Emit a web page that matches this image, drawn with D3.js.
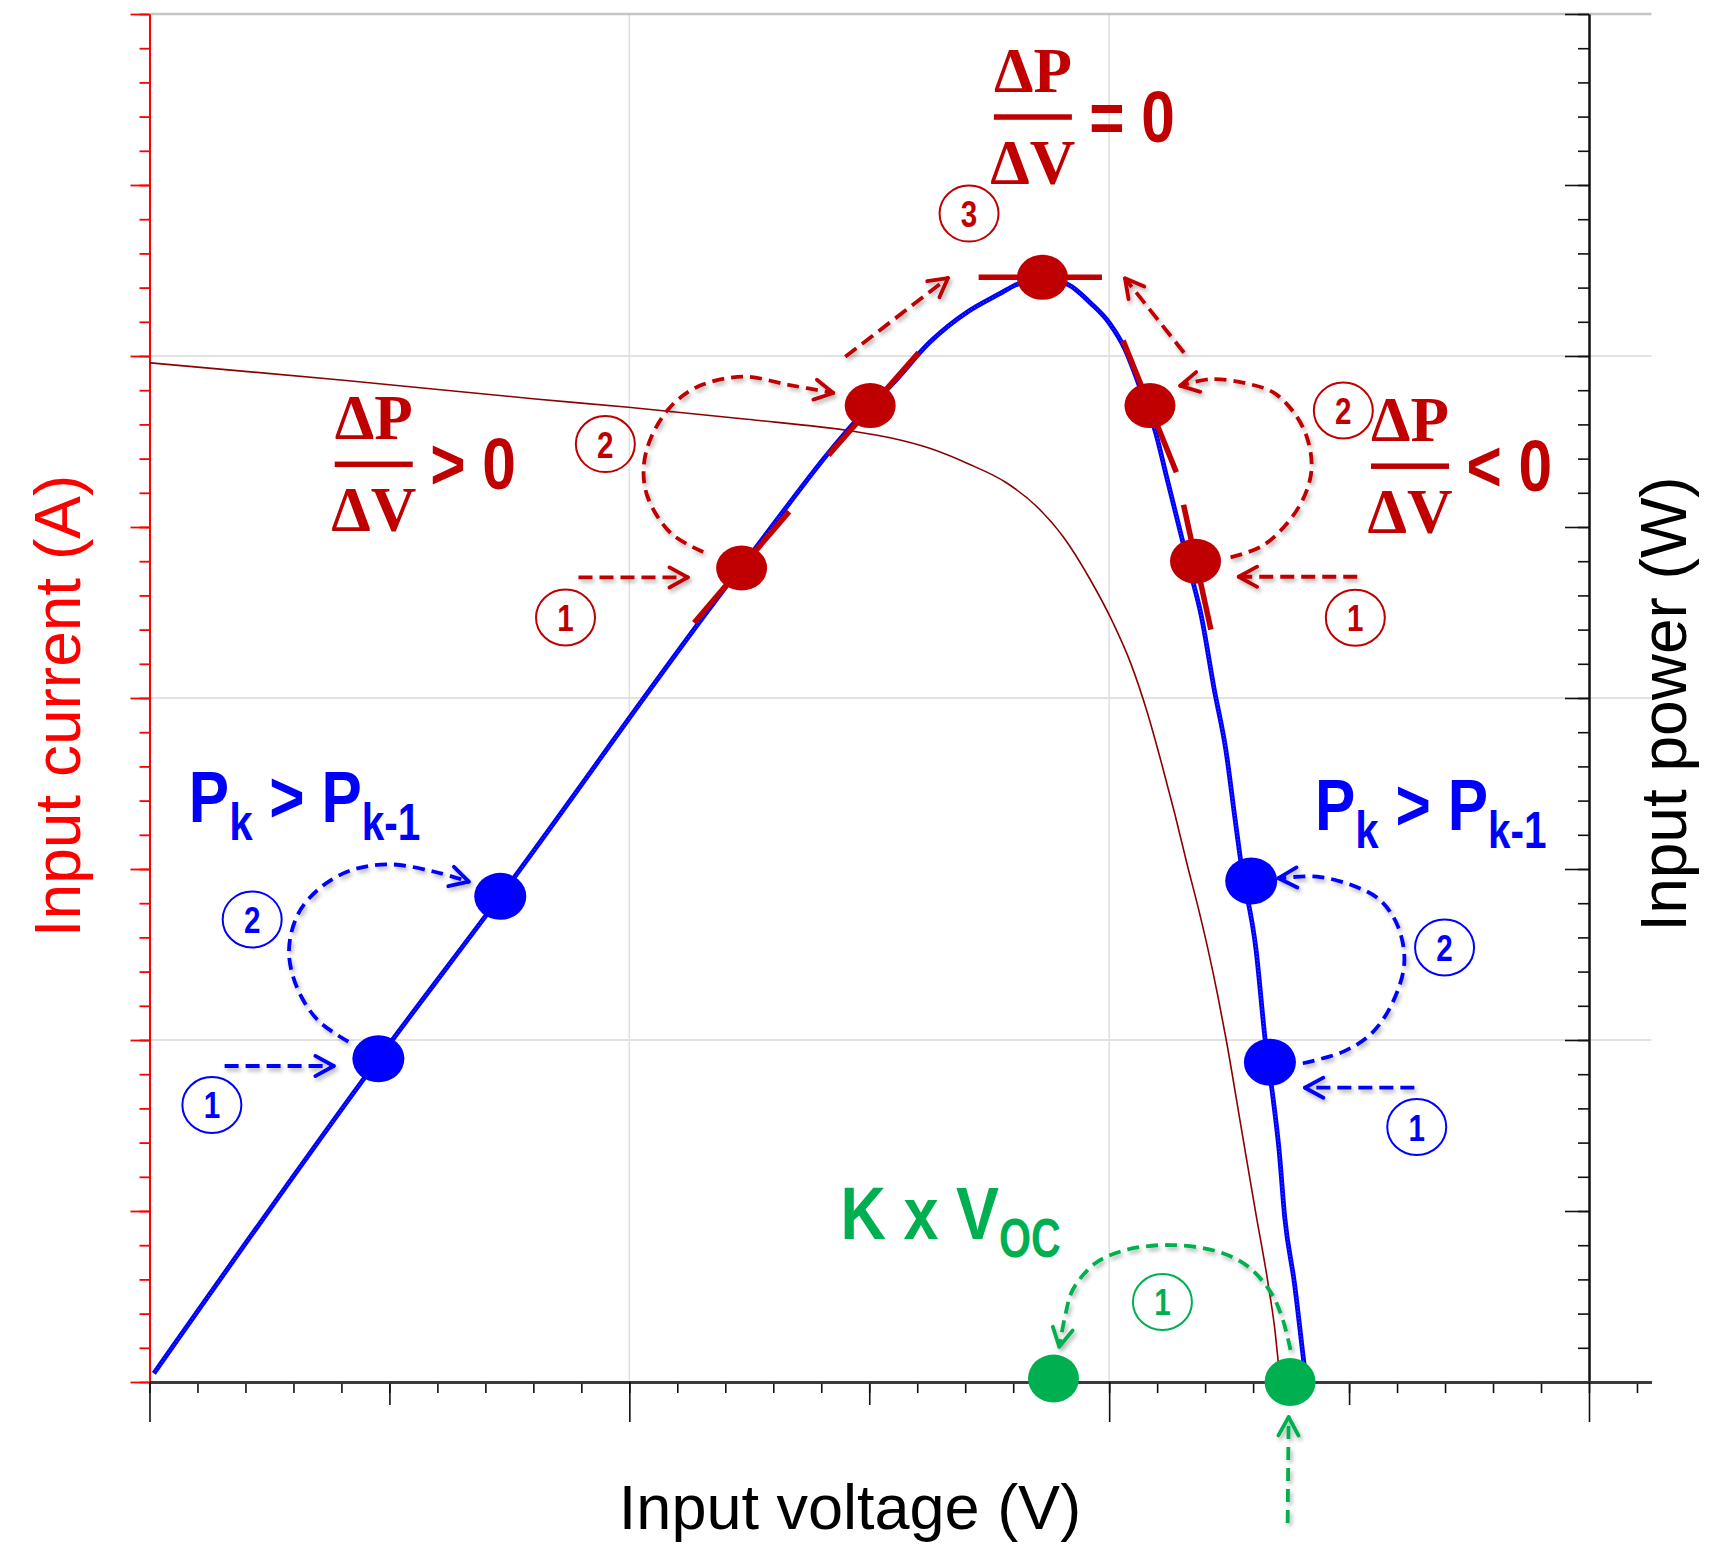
<!DOCTYPE html>
<html>
<head>
<meta charset="utf-8">
<script src="https://d3js.org/d3.v7.min.js"></script>
<style>
  body { margin: 0; background: #fff; }
  text { font-family: "Liberation Sans", Arial, sans-serif; }
</style>
</head>
<body>
<svg id="chart" width="1736" height="1545"></svg>
<script>
// values (voltage V, current A / power W)
var ivCurve = [[0.01,5.96],[3.99,5.86],[7.99,5.75],[9.98,5.70],[12.45,5.63],[14.66,5.56],[15.46,5.52],
  [16.26,5.46],[17.06,5.37],[17.85,5.26],[18.49,5.12],[19.05,4.94],[19.61,4.69],[20.08,4.44],[20.44,4.21],
  [20.79,3.92],[21.10,3.61],[21.37,3.32],[21.64,3.01],[21.85,2.78],[22.06,2.53],[22.27,2.25],[22.44,2.00],
  [22.75,1.49],[23.06,0.98],[23.31,0.58],[23.46,0.29],[23.53,0.10]];
var pvCurve = [[0.09,0.05],[4.77,1.89],[7.31,2.84],[12.34,4.77],[15.02,5.71],[15.46,5.83],
  [16.26,6.08],[17.06,6.26],[17.69,6.36],[18.09,6.42],[18.60,6.45],[19.13,6.42],[19.61,6.31],[20.01,6.19],
  [20.33,6.04],[20.61,5.84],[20.97,5.55],[21.20,5.29],[21.44,5.02],[21.68,4.75],[21.92,4.48],[22.19,4.05],
  [22.43,3.70],[22.62,3.30],[22.74,3.05],[23.06,2.53],[23.26,1.98],[23.42,1.65],[23.54,1.36],[23.66,0.96],
  [23.86,0.58],[24.06,0.11],[24.10,0.02]];

var redDots = [[12.34,4.76],[15.02,5.71],[18.61,6.46],[20.85,5.71],[21.80,4.80]];
var blueDots = [[4.77,1.89],[7.31,2.84],[22.96,2.93],[23.35,1.87]];
var greenDots = [[18.84,0.02],[23.77,0.00]];

var tangents = [
  [[11.35,4.44],[13.33,5.09]],
  [[14.15,5.42],[16.03,6.02]],
  [[17.28,6.46],[19.85,6.46]],
  [[20.29,6.09],[21.40,5.32]],
  [[21.55,5.13],[22.12,4.40]]
];

var redArrows = [
  [[8.94,4.705],[11.22,4.705]],
  [[11.54,4.854],[10.86,4.965],[10.38,5.177],[10.30,5.353],[10.46,5.528],[10.86,5.703],[11.42,5.820],
   [12.37,5.879],[13.34,5.830],[14.25,5.784]],
  [[14.50,5.996],[16.64,6.456]],
  [[25.17,4.709],[22.70,4.709]],
  [[22.53,4.822],[23.19,4.889],[23.73,5.029],[24.08,5.187],[24.22,5.345],[24.12,5.526],[23.85,5.669],
   [23.42,5.787],[22.87,5.839],[22.14,5.865],[21.48,5.826]],
  [[21.56,6.019],[20.33,6.454]]
];
var blueArrows = [
  [[1.565,1.848],[3.84,1.848]],
  [[4.143,1.990],[3.503,2.117],[3.066,2.312],[2.907,2.526],[3.105,2.741],[3.585,2.896],[4.220,2.994],
   [5.021,3.027],[5.938,2.984],[6.655,2.926]],
  [[24.036,1.864],[24.88,1.932],[25.47,2.039],[25.90,2.215],[26.15,2.448],[26.02,2.663],[25.64,2.819],
   [25.05,2.906],[24.33,2.955],[23.53,2.946]],
  [[26.36,1.721],[24.08,1.721]]
];
var greenArrows = [
  [[23.78,0.187],[23.62,0.363],[23.38,0.519],[22.90,0.674],[22.27,0.762],[21.27,0.801],[20.35,0.772],
   [19.71,0.694],[19.24,0.538],[19.08,0.382],[18.96,0.206]],
  [[23.72,-0.825],[23.74,-0.205]]
];

var redSteps = [["1",8.67,4.471],["2",9.50,5.485],["3",17.08,6.833],["2",24.88,5.681],["1",25.13,4.470]];
var blueSteps = [["2",2.14,2.705],["1",1.30,1.620],["2",26.99,2.541],["1",26.41,1.491]];
var greenSteps = [["1",21.11,0.468]];

// fraction labels: bar centre and operator
var fractions = [[4.673,5.368,">"],[18.41,7.399,"="],[26.27,5.357,"<"]];
var pkLabels = [[0.819,3.277],[24.29,3.228]];
var kvocLabel = [14.40,0.836];

var xTicksMajor = d3.range(0, 31, 10);
var xTicksMid = [5, 15, 25];
var xTicksMinor = d3.range(0, 32, 1);
var yTicksMajor = d3.range(0, 9, 1);
var yTicksMinor = d3.range(0, 8.01, 0.2);

var RED = "#c00000", BLUE = "#0000ff", GREEN = "#00b050";

var svg = d3.select("#chart");
var x = d3.scaleLinear().domain([0, 30]).range([149.5, 1589]);
var y = d3.scaleLinear().domain([0, 8]).range([1382, 14]);
var xExt = x.copy().domain([0, 31.3]).range([x(0), x(31.3)]);

var defs = svg.append("defs");
var f = defs.append("filter").attr("id", "shadow").attr("x", "-20%").attr("y", "-20%")
  .attr("width", "140%").attr("height", "140%");
f.append("feDropShadow").attr("dx", 2).attr("dy", 3).attr("stdDeviation", 2)
  .attr("flood-color", "#000").attr("flood-opacity", 0.3);

// grid
var grid = svg.append("g");
grid.selectAll(".hg").data([2, 4, 6]).enter().append("line")
  .attr("x1", x(0)).attr("x2", xExt(31.3)).attr("y1", d => y(d)).attr("y2", d => y(d))
  .attr("stroke", "#d9d9d9").attr("stroke-width", 1.5);
grid.selectAll(".vg").data([10, 20]).enter().append("line")
  .attr("x1", d => x(d)).attr("x2", d => x(d)).attr("y1", y(0)).attr("y2", y(8))
  .attr("stroke", "#e0e0e0").attr("stroke-width", 1.5);
grid.append("line").attr("x1", x(0)).attr("x2", xExt(31.3)).attr("y1", y(8)).attr("y2", y(8))
  .attr("stroke", "#c4c4c4").attr("stroke-width", 2.5);

// left axis (red)
function styleAxis(g, col, w) {
  g.selectAll("line").attr("stroke", col).attr("stroke-width", w);
  g.selectAll("path").attr("stroke", col).attr("stroke-width", 2);
  g.selectAll("text").remove();
}
svg.append("g").attr("transform", "translate(" + x(0) + ",0)")
  .call(d3.axisLeft(y).tickValues(yTicksMinor).tickSize(10).tickSizeOuter(0).tickFormat(""))
  .call(g => styleAxis(g, "#ff0000", 1.8));
svg.append("g").attr("transform", "translate(" + x(0) + ",0)")
  .call(d3.axisLeft(y).tickValues(yTicksMajor).tickSize(19).tickSizeOuter(0).tickFormat(""))
  .call(g => styleAxis(g, "#ff0000", 1.8));

// right axis (black, ticks inward)
svg.append("g").attr("transform", "translate(" + x(30) + ",0)")
  .call(d3.axisLeft(y).tickValues(yTicksMinor).tickSize(11).tickSizeOuter(0).tickFormat(""))
  .call(g => styleAxis(g, "#111", 1.6));
svg.append("g").attr("transform", "translate(" + x(30) + ",0)")
  .call(d3.axisLeft(y).tickValues(yTicksMajor).tickSize(24).tickSizeOuter(0).tickFormat(""))
  .call(g => styleAxis(g, "#111", 1.6));

// bottom axis
[[xTicksMinor, 11], [xTicksMid, 23], [xTicksMajor, 40]].forEach(function (t) {
  svg.append("g").attr("transform", "translate(0," + y(0) + ")")
    .call(d3.axisBottom(xExt).tickValues(t[0]).tickSize(t[1]).tickSizeOuter(0).tickFormat(""))
    .call(g => { styleAxis(g, "#111", 1.6); g.select("path").attr("stroke", "#3a3a3a").attr("stroke-width", 2.6); });
});

// curves
var line = d3.line().x(d => x(d[0])).y(d => y(d[1])).curve(d3.curveMonotoneX);
svg.append("path").datum(ivCurve).attr("d", line).attr("fill", "none")
  .attr("stroke", "#8b0000").attr("stroke-width", 1.6);
svg.append("path").datum(pvCurve).attr("d", line).attr("fill", "none")
  .attr("stroke", BLUE).attr("stroke-width", 4.8);
svg.append("path").datum(pvCurve).attr("d", line).attr("fill", "none")
  .attr("stroke", "#8f9fff").attr("stroke-width", 1).attr("stroke-dasharray", "1 2.5").attr("opacity", 0.6);

// tangents
svg.selectAll(".tan").data(tangents).enter().append("line")
  .attr("x1", d => x(d[0][0])).attr("y1", d => y(d[0][1]))
  .attr("x2", d => x(d[1][0])).attr("y2", d => y(d[1][1]))
  .attr("stroke", RED).attr("stroke-width", 5.5);

// dots
function dots(data, col, rx, ry) {
  svg.append("g").selectAll("ellipse").data(data).enter().append("ellipse")
    .attr("cx", d => x(d[0])).attr("cy", d => y(d[1])).attr("rx", rx).attr("ry", ry).attr("fill", col);
}
dots(redDots, RED, 25.5, 22.5);
dots(blueDots, BLUE, 26, 23.5);
dots(greenDots, GREEN, 25.5, 24);

// dashed arrows
var arc = d3.line().x(d => x(d[0])).y(d => y(d[1])).curve(d3.curveCatmullRom);
function arrows(data, col, dash) {
  var g = svg.append("g").attr("filter", "url(#shadow)");
  data.forEach(function (pts) {
    g.append("path").attr("d", arc(pts)).attr("fill", "none").attr("stroke", col)
      .attr("stroke-width", 3.8).attr("stroke-dasharray", pts.length > 2 ? "12 7" : dash);
    var a = pts[pts.length - 1], b = pts[pts.length - 2];
    var tx = x(a[0]), ty = y(a[1]);
    var ang = Math.atan2(ty - y(b[1]), tx - x(b[0]));
    [0.5, -0.5].forEach(function (s) {
      g.append("line").attr("x1", tx).attr("y1", ty)
        .attr("x2", tx - 21 * Math.cos(ang + s)).attr("y2", ty - 21 * Math.sin(ang + s))
        .attr("stroke", col).attr("stroke-width", 3.8).attr("stroke-linecap", "round");
    });
  });
}
arrows(redArrows, RED, "14 7");
arrows(blueArrows, BLUE, "14 7");
arrows(greenArrows, GREEN, "13 8");

// circled step numbers
function steps(data, col) {
  var g = svg.append("g");
  data.forEach(function (d) {
    g.append("ellipse").attr("cx", x(d[1])).attr("cy", y(d[2])).attr("rx", 29.5).attr("ry", 28)
      .attr("fill", "none").attr("stroke", col).attr("stroke-width", 2);
    g.append("text").attr("transform", "translate(" + x(d[1]) + "," + (y(d[2]) + 13.5) + ") scale(0.8,1)")
      .attr("text-anchor", "middle").attr("font-size", 37).attr("font-weight", "bold")
      .attr("fill", col).text(d[0]);
  });
}
steps(redSteps, RED);
steps(blueSteps, BLUE);
steps(greenSteps, GREEN);

// multi-part condensed labels
function parts(g, list, col) {
  var cx = 0;
  list.forEach(function (p) {
    if (p.gap) { cx += p.gap; return; }
    var t = g.append("text").attr("transform", "translate(" + cx + "," + (p.dy || 0) + ") scale(" + p.sx + ",1)")
      .attr("font-size", p.size).attr("font-weight", "bold").attr("fill", col).text(p.t);
    cx += t.node().getComputedTextLength() * p.sx;
  });
}

fractions.forEach(function (d) {
  var g = svg.append("g").attr("transform", "translate(" + x(d[0]) + "," + y(d[1]) + ")");
  g.append("text").attr("x", 0).attr("y", -25).attr("text-anchor", "middle")
    .style("font-family", "'Liberation Serif', 'Times New Roman', serif")
    .attr("font-size", 63).attr("font-weight", "bold").attr("fill", RED).text("\u0394P");
  g.append("rect").attr("x", -39).attr("y", -2.5).attr("width", 78).attr("height", 5.5).attr("fill", RED);
  g.append("text").attr("x", 0).attr("y", 67).attr("text-anchor", "middle")
    .style("font-family", "'Liberation Serif', 'Times New Roman', serif")
    .attr("font-size", 63).attr("font-weight", "bold").attr("fill", RED).text("\u0394V");
  g.append("text").attr("transform", "translate(56.5,25) scale(0.84,1)")
    .attr("font-size", 72).attr("font-weight", "bold").attr("fill", RED).text(d[2]);
  g.append("text").attr("transform", "translate(108.5,25) scale(0.84,1)")
    .attr("font-size", 72).attr("font-weight", "bold").attr("fill", RED).text("0");
});

pkLabels.forEach(function (d) {
  var g = svg.append("g").attr("transform", "translate(" + x(d[0]) + "," + y(d[1]) + ")");
  parts(g, [{t: "P", size: 72, sx: 0.84}, {t: "k", size: 52, sx: 0.81, dy: 18}, {gap: 16.8},
    {t: ">", size: 72, sx: 0.84}, {gap: 16.8}, {t: "P", size: 72, sx: 0.84},
    {t: "k-1", size: 52, sx: 0.78, dy: 18}], BLUE);
});

(function () {
  var g = svg.append("g").attr("transform", "translate(" + x(kvocLabel[0]) + "," + y(kvocLabel[1]) + ")");
  parts(g, [{t: "K", size: 75, sx: 0.84}, {gap: 17.5}, {t: "x", size: 75, sx: 0.84}, {gap: 17.5},
    {t: "V", size: 75, sx: 0.86}, {t: "OC", size: 55, sx: 0.75, dy: 18}], GREEN);
})();

// axis titles
svg.append("text").attr("transform", "translate(80,706) rotate(-90)")
  .attr("text-anchor", "middle").attr("font-size", 64).attr("fill", "#ff0000").text("Input current (A)");
svg.append("text").attr("transform", "translate(1686,704) rotate(-90)")
  .attr("text-anchor", "middle").attr("font-size", 64).attr("fill", "#000").text("Input power (W)");
svg.append("text").attr("x", 850).attr("y", 1529)
  .attr("text-anchor", "middle").attr("font-size", 63).attr("fill", "#000").text("Input voltage (V)");
</script>
</body>
</html>
